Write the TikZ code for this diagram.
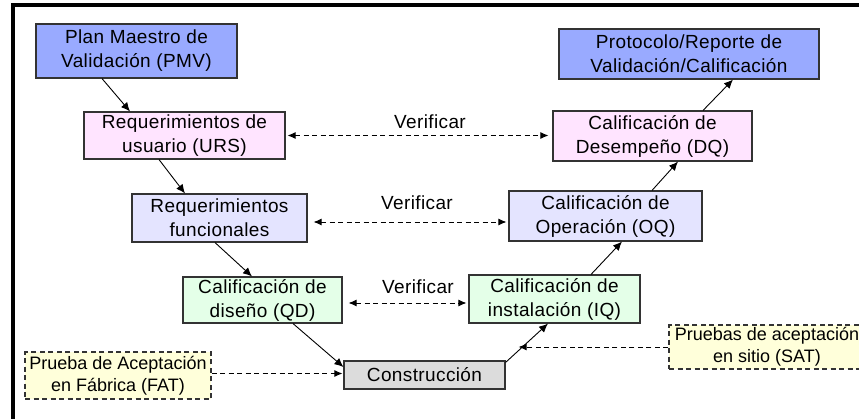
\documentclass[tikz,border=0pt]{standalone}
\usepackage{fontspec}
\setmainfont{Liberation Sans}[LetterSpace=2.0]
\newfontfamily\tightfont{Liberation Sans}
\usetikzlibrary{arrows.meta}
\usetikzlibrary{calc}

\definecolor{pmvblue}{RGB}{153,170,255}
\definecolor{urspink}{RGB}{255,228,255}
\definecolor{funlav}{RGB}{228,228,255}
\definecolor{qdgreen}{RGB}{228,255,232}
\definecolor{congray}{RGB}{220,220,220}
\definecolor{testyellow}{RGB}{255,255,218}

\begin{document}
\begin{tikzpicture}[
  x=1pt,
  y=-1pt,
  stagebox/.style={
    rectangle,
    draw=black!80,
    line width=1.1pt,
    inner sep=0pt,
    align=center,
    font=\fontsize{19}{24}\selectfont,
  },
  testbox/.style={
    stagebox,
    dash pattern=on 5pt off 3.5pt,
    font=\tightfont\fontsize{18}{22}\selectfont,
  },
  flow/.style={
    -{Latex[length=9pt,width=8pt]},
    line width=0.9pt,
  },
  check/.style={
    {Latex[length=8pt,width=7pt]}-{Latex[length=8pt,width=7pt]},
    dash pattern=on 5pt off 3.5pt,
    line width=0.9pt,
  },
  testflow/.style={
    -{Latex[length=8pt,width=7pt]},
    dash pattern=on 5pt off 3.5pt,
    line width=0.9pt,
  },
  verif/.style={
    font=\fontsize{19}{24}\selectfont,
  },
]
  \useasboundingbox (0,0) rectangle (859,418);

  % Frame
  \draw[line width=4pt] (13,420) -- (13,5.3) -- (862,5.3);

  % Left branch
  \node[stagebox, fill=pmvblue, minimum width=201pt, minimum height=54pt]
    (pmv) at (136.5,51) {Plan Maestro de\\Validación (PMV)};
  \node[stagebox, fill=urspink, minimum width=201pt, minimum height=47pt]
    (urs) at (184.5,135.5) {Requerimientos de\\usuario (URS)};
  \node[stagebox, fill=funlav, minimum width=175pt, minimum height=48pt]
    (fun) at (219.5,218) {Requerimientos\\funcionales};
  \node[stagebox, fill=qdgreen, minimum width=159pt, minimum height=46pt]
    (qd) at (262.5,300) {Calificación de\\diseño (QD)};

  % Bottom
  \node[stagebox, fill=congray, minimum width=161pt, minimum height=28pt]
    (con) at (424.5,375) {Construcción};
  \node[testbox, fill=testyellow, minimum width=186pt, minimum height=47pt]
    (fat) at (118,375.5) {Prueba de Aceptación\\en Fábrica (FAT)};

  % Right branch
  \node[stagebox, fill=qdgreen, minimum width=171pt, minimum height=48pt]
    (iq) at (554.5,299) {Calificación de\\instalación (IQ)};
  \node[stagebox, fill=funlav, minimum width=193pt, minimum height=50pt]
    (oq) at (605.5,216) {Calificación de\\Operación (OQ)};
  \node[stagebox, fill=urspink, minimum width=199pt, minimum height=50pt]
    (dq) at (652.5,136) {Calificación de\\Desempeño (DQ)};
  \node[stagebox, fill=pmvblue, minimum width=260pt, minimum height=50pt]
    (pro) at (689,54) {Protocolo/Reporte de\\Validación/Calificación};
  \node[testbox, fill=testyellow, minimum width=196pt, minimum height=44pt]
    (sat) at (767,347) {Pruebas de aceptación\\en sitio (SAT)};

  % V flow
  \draw[flow] ([xshift=-34.5pt]pmv.south) -- ([xshift=-54.5pt]urs.north);
  \draw[flow] ([xshift=-25.5pt]urs.south) -- ([xshift=-34.5pt]fun.north);
  \draw[flow] ([xshift=-4.5pt]fun.south) -- ([xshift=-10.5pt]qd.north);
  \draw[flow] ([xshift=30.5pt]qd.south) -- ([yshift=8pt]con.west);
  \draw[flow] ([yshift=-2pt]con.north east)
    -- coordinate[pos=0.4] (sathit) ([xshift=-6.5pt]iq.south);
  \draw[flow] ([xshift=36.5pt]iq.north) -- ([xshift=16.5pt]oq.south);
  \draw[flow] ([xshift=46.5pt]oq.north) -- ([xshift=25.5pt]dq.south);
  \draw[flow] ([xshift=50.5pt]dq.north) -- ([xshift=44pt]pro.south);

  % Verification links
  \draw[check, shorten <=2pt, shorten >=4pt]
    (urs.east) -- (urs.east -| dq.west);
  \node[verif] (v1) at (430,122) {Verificar};
  \draw[check, shorten <=6pt, shorten >=2pt]
    ([yshift=-4pt]fun.east) -- ([yshift=-4pt]fun.east -| oq.west);
  \node[verif] (v2) at (417,203) {Verificar};
  \draw[check, shorten <=6pt, shorten >=2pt]
    ([yshift=-3pt]qd.east) -- ([yshift=-3pt]qd.east -| iq.west);
  \node[verif] (v3) at (418,287) {Verificar};

  % Acceptance tests
  \draw[testflow, shorten >=1pt] ([yshift=2pt]fat.east) -- ([yshift=2pt]fat.east -| con.west);
  \draw[testflow, shorten >=-4pt] (sat.west) -- (sat.west -| sathit);
\end{tikzpicture}
\end{document}
